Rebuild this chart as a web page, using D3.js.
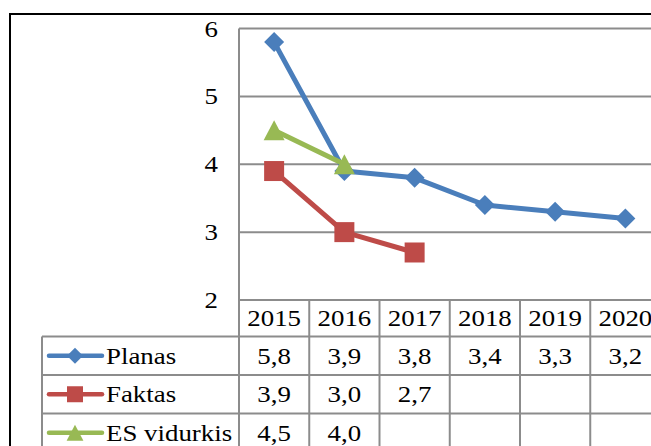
<!DOCTYPE html>
<html>
<head>
<meta charset="utf-8">
<script src="https://cdn.jsdelivr.net/npm/d3@7"></script>
<style>
  html, body { margin: 0; padding: 0; background: #fff; }
  svg { display: block; }
</style>
</head>
<body>
<div id="chart"></div>
<script>
// Chart data
const years = ["2015", "2016", "2017", "2018", "2019", "2020"];
const planas = [5.8, 3.9, 3.8, 3.4, 3.3, 3.2];
const faktas = [3.9, 3.0, 2.7, null, null, null];
const esVidurkis = [4.5, 4.0, null, null, null, null];
const yTicks = [2, 3, 4, 5, 6];

const series = [
  { name: "Planas", values: planas, color: "#4A7EBB", marker: "diamond" },
  { name: "Faktas", values: faktas, color: "#BE4B48", marker: "square" },
  { name: "ES vidurkis", values: esVidurkis, color: "#98B954", marker: "triangle" }
];

const W = 651, H = 446;
const plotLeft = 239, plotRight = 660.5, plotTop = 28.5, plotBottom = 300;
const legendLeft = 42;
const headerBottom = 336.5;
const rowH = 38.5;
const gridColor = "#8C8C8C";
const fontFamily = '"Liberation Serif"';
const fontSize = 24;
const stretch = 1.12;

const svg = d3.select("#chart").append("svg")
  .attr("width", W).attr("height", H);

const x = d3.scaleBand().domain(years).range([plotLeft, plotRight]).padding(0);
const y = d3.scaleLinear().domain([2, 6]).range([plotBottom, plotTop]);
const cx = d => x(d) + x.bandwidth() / 2;

// Chart frame
svg.append("rect")
  .attr("x", 10).attr("y", 14)
  .attr("width", W + 40).attr("height", H + 40)
  .attr("fill", "none").attr("stroke", "#000").attr("stroke-width", 2);

// Horizontal gridlines
svg.append("g").selectAll("line").data(yTicks.filter(t => t > 2)).join("line")
  .attr("x1", plotLeft).attr("x2", plotRight)
  .attr("y1", d => y(d)).attr("y2", d => y(d))
  .attr("stroke", gridColor).attr("stroke-width", 2);

// Text helper: slightly widened serif labels
function stretchedText(g, tx, ty, str, anchor) {
  g.append("text")
    .attr("transform", `translate(${tx},${ty}) scale(${stretch},1)`)
    .attr("text-anchor", anchor)
    .attr("font-size", fontSize)
    .style("font-family", fontFamily)
    .attr("fill", "#000")
    .text(str);
}

// Value axis labels
const yAxis = svg.append("g");
yTicks.forEach(t => stretchedText(yAxis, 218, y(t) + 8, String(t), "end"));

// Data table grid
const table = svg.append("g").attr("stroke", gridColor).attr("stroke-width", 2);
const rowTops = series.map((s, i) => headerBottom + i * rowH);
const tableBottom = headerBottom + series.length * rowH;
// vertical axis line + column separators
x.domain().concat(["end"]).forEach((d, i) => {
  const xx = i < years.length ? x(d) : plotRight;
  table.append("line")
    .attr("x1", xx).attr("x2", xx)
    .attr("y1", i === 0 ? plotTop : plotBottom).attr("y2", tableBottom);
});
// legend column left edge
table.append("line").attr("x1", legendLeft).attr("x2", legendLeft)
  .attr("y1", headerBottom).attr("y2", tableBottom);
// horizontal separators
table.append("line").attr("x1", plotLeft).attr("x2", plotRight)
  .attr("y1", plotBottom).attr("y2", plotBottom);
series.concat([null]).forEach((s, i) => {
  const yy = headerBottom + i * rowH;
  table.append("line").attr("x1", legendLeft).attr("x2", plotRight)
    .attr("y1", yy).attr("y2", yy);
});

// Header: years
const header = svg.append("g");
years.forEach(yr => stretchedText(header, cx(yr), (plotBottom + headerBottom) / 2 + 8, yr, "middle"));

// Marker shapes
function markerPath(type, r) {
  if (type === "diamond") return `M0,${-r}L${r},0L0,${r}L${-r},0Z`;
  if (type === "square") return `M${-r},${-r}H${r}V${r}H${-r}Z`;
  return `M0,${-r}L${r * 1.05},${r}L${-r * 1.05},${r}Z`;
}

// Series lines and markers
const line = d3.line()
  .defined(d => d.v != null)
  .x(d => cx(d.year))
  .y(d => y(d.v));

series.forEach(s => {
  const pts = years.map((yr, i) => ({ year: yr, v: s.values[i] }));
  const g = svg.append("g");
  g.append("path")
    .datum(pts)
    .attr("d", line)
    .attr("fill", "none")
    .attr("stroke", s.color)
    .attr("stroke-width", 5)
    .attr("stroke-linejoin", "round");
  g.selectAll("path.m").data(pts.filter(d => d.v != null)).join("path")
    .attr("class", "m")
    .attr("transform", d => `translate(${cx(d.year)},${y(d.v)})`)
    .attr("d", markerPath(s.marker, 10))
    .attr("fill", s.color);
});

// Table rows: legend keys and values
const fmt = v => v.toFixed(1).replace(".", ",");
series.forEach((s, i) => {
  const rowMid = rowTops[i] + rowH / 2;
  const g = svg.append("g");
  g.append("line")
    .attr("x1", 49).attr("x2", 102)
    .attr("y1", rowMid).attr("y2", rowMid)
    .attr("stroke", s.color).attr("stroke-width", 4.5)
    .attr("stroke-linecap", "round");
  g.append("path")
    .attr("transform", `translate(75,${rowMid})`)
    .attr("d", markerPath(s.marker, 8))
    .attr("fill", s.color);
  stretchedText(g, 106, rowMid + 8, s.name, "start");
  s.values.forEach((v, j) => {
    if (v != null) stretchedText(g, cx(years[j]), rowMid + 8, fmt(v), "middle");
  });
});
</script>
</body>
</html>
